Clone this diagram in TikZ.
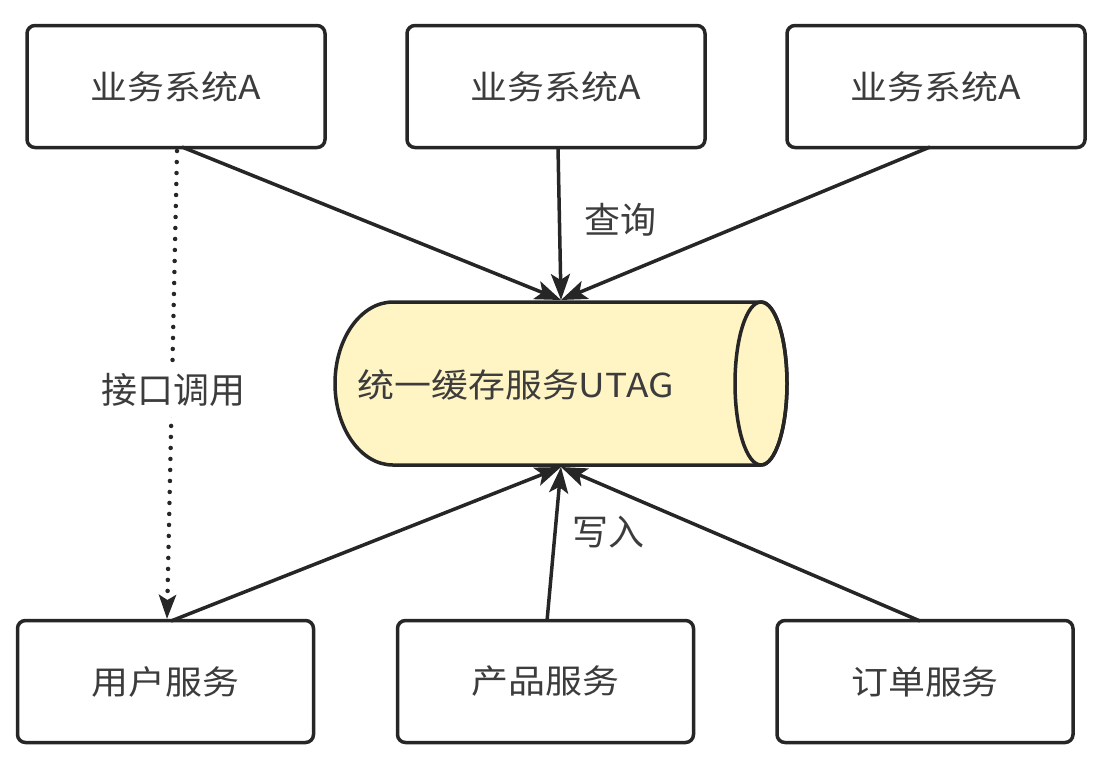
\documentclass[tikz,border=0pt]{standalone}
\usepackage{fontspec}
\setmainfont{Noto Sans CJK SC}
\newfontfamily\widefont[FakeStretch=1.12]{Noto Sans CJK SC}
\usetikzlibrary{arrows.meta}
\definecolor{linec}{HTML}{262626}
\definecolor{textc}{HTML}{3C3C3C}
\definecolor{cylfill}{HTML}{FFF5C4}
\tikzset{
  sysbox/.style={draw=linec, line width=3.5pt, rounded corners=8pt, fill=white, text=textc, font=\widefont\fontsize{33}{38}\selectfont},
  conn/.style={draw=linec, line width=3.5pt, -{Stealth[length=26pt,width=19pt,inset=6pt]}},
  dotconn/.style={draw=linec, line width=4.5pt, line cap=round, dash pattern=on 0pt off 11pt, -{Stealth[length=24pt,width=17pt,inset=5pt,line cap=butt]}},
  lbl/.style={text=textc, font=\fontsize{36}{40}\selectfont, inner sep=2pt},
}
\begin{document}
\begin{tikzpicture}[x=1pt,y=-1pt]
\useasboundingbox (0,0) rectangle (1110,761);
% top boxes
\node[sysbox, minimum width=298pt, minimum height=122pt] (a1) at (176,86.5) {业务系统A};
\node[sysbox, minimum width=298pt, minimum height=122pt] (a2) at (556,86.5) {业务系统A};
\node[sysbox, minimum width=298pt, minimum height=122pt] (a3) at (936,86.5) {业务系统A};
% bottom boxes
\node[sysbox, minimum width=296pt, minimum height=122pt] (b1) at (165.5,681.5) {用户服务};
\node[sysbox, minimum width=296pt, minimum height=122pt] (b2) at (545.5,681.5) {产品服务};
\node[sysbox, minimum width=296pt, minimum height=122pt] (b3) at (925,681.5) {订单服务};
% cylinder (y axis points down: angle 270 is the top)
\draw[draw=linec, line width=3.5pt, fill=cylfill]
  (761,302) -- (393,302)
  arc[start angle=270, end angle=90, x radius=58, y radius=81.5]
  -- (761,465)
  arc[start angle=90, end angle=-90, x radius=26, y radius=81.5] -- cycle;
\draw[draw=linec, line width=3.5pt] (761,383.5) ellipse[x radius=26, y radius=81.5];
\node[text=textc, font=\widefont\fontsize{33}{40}\selectfont, anchor=west, inner sep=0pt] (utag) at (357,385) {统一缓存服务UTAG};
\coordinate (ctop) at (561,300);
\coordinate (cbot) at (561,467);
% source points
\coordinate (a1o) at (182,147);
\coordinate (a1d) at (177,151);
\coordinate (a2o) at (558,147);
\coordinate (a3o) at (930,147);
\coordinate (b1o) at (171,621);
\coordinate (b1d) at (167,619);
\coordinate (b2o) at (547,621);
\coordinate (b3o) at (920,621);
% connectors
\draw[conn] (a1o) -- (ctop);
\draw[conn] (a2o) -- (ctop);
\draw[conn] (a3o) -- (ctop);
\draw[conn] (b1o) -- (cbot);
\draw[conn] (b2o) -- (cbot);
\draw[conn] (b3o) -- (cbot);
\draw[dotconn] (a1d) -- (b1d);
% labels
\node[lbl] (q) at (620,220) {查询};
\node[lbl] (w) at (608,532) {写入};
\node[lbl, fill=white, inner sep=10pt] (call) at (173,390) {接口调用};
\end{tikzpicture}
\end{document}
